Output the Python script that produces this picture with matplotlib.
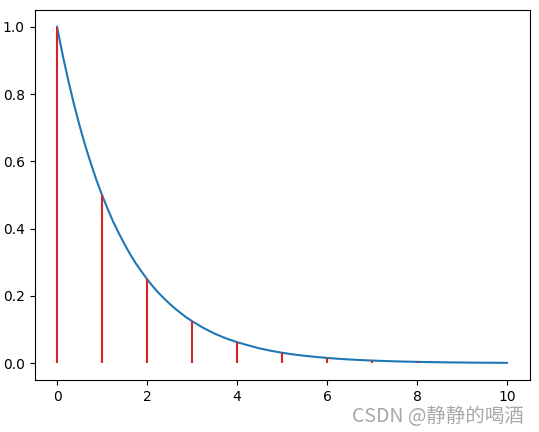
import numpy as np
import matplotlib
matplotlib.use('Agg')
import matplotlib.pyplot as plt

# curve values (finer steps where it bends most)
curve_x = [0, 0.125, 0.25, 0.375, 0.5, 0.625, 0.75, 0.875, 1.0, 1.125, 1.25, 1.375,
           1.5, 1.625, 1.75, 1.875, 2.0, 2.125, 2.25, 2.375, 2.5, 2.625, 2.75, 2.875,
           3.0, 3.25, 3.5, 3.75, 4.0, 4.25, 4.5, 4.75, 5.0, 5.25, 5.5, 5.75, 6.0,
           6.25, 6.5, 6.75, 7.0, 7.25, 7.5, 7.75, 8.0, 8.25, 8.5, 8.75, 9.0, 9.25,
           9.5, 9.75, 10.0]
curve_y = [1.0, 0.917, 0.841, 0.771, 0.707, 0.648, 0.595, 0.545, 0.5, 0.459, 0.420, 0.386,
           0.354, 0.324, 0.297, 0.273, 0.25, 0.229, 0.210, 0.193, 0.177, 0.162, 0.149, 0.136,
           0.125, 0.105, 0.088, 0.074, 0.0625, 0.053, 0.044, 0.037, 0.031, 0.026, 0.022, 0.0186,
           0.0156, 0.0131, 0.011, 0.0093, 0.0078, 0.0066, 0.0055, 0.0046, 0.0039, 0.0033,
           0.0028, 0.0023, 0.002, 0.0016, 0.0014, 0.0012, 0.001]

# red stems at integer positions
stem_x = [0, 1, 2, 3, 4, 5, 6, 7, 8]
stem_y = [1.0, 0.5, 0.25, 0.125, 0.0625, 0.03125, 0.0156, 0.0078, 0.0039]

fig = plt.figure(figsize=(5.39, 4.32), dpi=100)
ax = fig.add_axes([34.5 / 539, (432 - 380) / 432, 495 / 539, 370 / 432])
ax.plot(curve_x, curve_y)
ax.vlines(stem_x, 0, stem_y, color='tab:red')

fig.text(0.972, 0.012, 'CSDN @静静的喝酒', ha='right', va='bottom', fontsize=14,
         color='#a8a8a8', family=['Noto Sans CJK SC', 'DejaVu Sans'])

plt.savefig('out.png', dpi=100)
